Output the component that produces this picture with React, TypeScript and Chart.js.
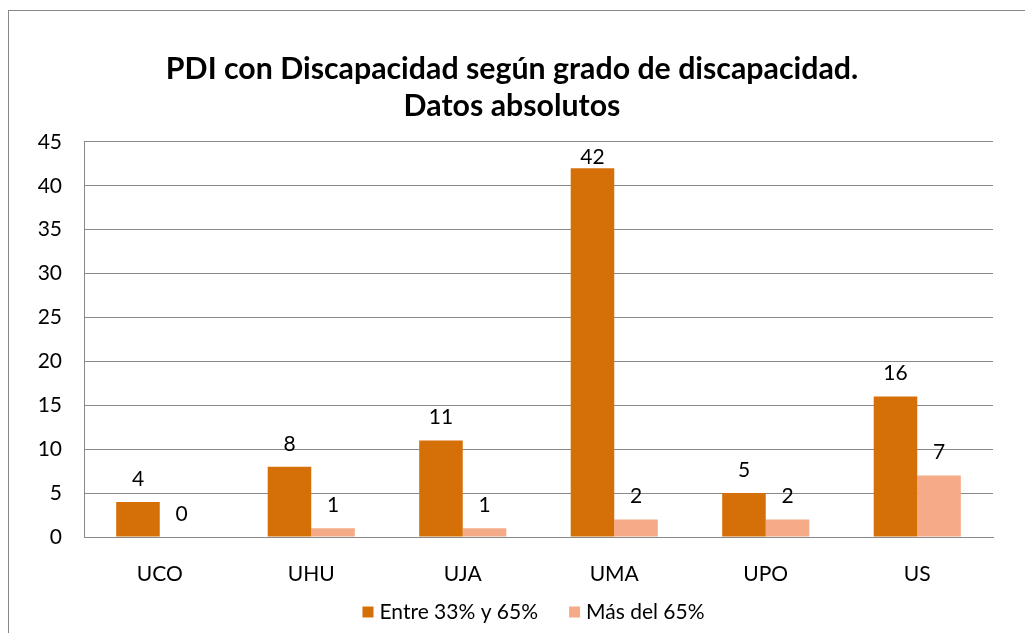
import React, { useEffect, useRef } from "react";
import { Chart, registerables } from "chart.js";

Chart.register(...registerables);

const categories = ["UCO", "UHU", "UJA", "UMA", "UPO", "US"];
const seriesA = [4, 8, 11, 42, 5, 16];
const seriesB = [0, 1, 1, 2, 2, 7];
const seriesNames = ["Entre 33% y 65%", "Más del 65%"];
const seriesColors = ["#D57008", "#F5AA88"];
const titleLines = ["PDI con Discapacidad según grado de discapacidad.", "Datos absolutos"];

const FONT = "Lato, 'Open Sans', sans-serif";

const labelPlugin = {
  id: "barLabels",
  afterDatasetsDraw(chart: any) {
    const ctx = chart.ctx;
    ctx.save();
    ctx.font = `21px ${FONT}`;
    ctx.fillStyle = "#000";
    ctx.textAlign = "center";
    ctx.textBaseline = "middle";
    chart.data.datasets.forEach((ds: any, di: number) => {
      const meta = chart.getDatasetMeta(di);
      meta.data.forEach((bar: any, i: number) => {
        let y = bar.y - 23;
        if (y < chart.chartArea.top + 15) y = chart.chartArea.top + 15;
        ctx.fillText(String(ds.data[i]), bar.x, y);
      });
    });
    // custom legend
    const box = 11, gapBoxText = 6, gapItems = 31;
    const widths = chart.data.datasets.map((ds: any) => box + gapBoxText + ctx.measureText(ds.label).width);
    const total = widths.reduce((a: number, b: number) => a + b, 0) + gapItems * (widths.length - 1);
    const ca = chart.chartArea;
    let x = (ca.left + ca.right) / 2 - 5 - total / 2;
    const cy = chart.height - 21;
    ctx.textAlign = "left";
    chart.data.datasets.forEach((ds: any, di: number) => {
      ctx.fillStyle = ds.backgroundColor;
      ctx.fillRect(x, cy - box / 2, box, box);
      ctx.fillStyle = "#000";
      ctx.fillText(ds.label, x + box + gapBoxText, cy);
      x += widths[di] + gapItems;
    });
    ctx.restore();
  },
};

export default function App() {
  const ref = useRef<HTMLCanvasElement>(null);
  useEffect(() => {
    const chart = new Chart(ref.current!, {
      type: "bar",
      data: {
        labels: categories,
        datasets: [
          { label: seriesNames[0], data: seriesA, backgroundColor: seriesColors[0], barPercentage: 1, categoryPercentage: 0.575 },
          { label: seriesNames[1], data: seriesB, backgroundColor: seriesColors[1], barPercentage: 1, categoryPercentage: 0.575 },
        ],
      },
      options: {
        animation: false,
        responsive: false,
        layout: { padding: { left: 22, right: 40, top: 0, bottom: 46 } },
        plugins: {
          title: {
            display: true,
            text: titleLines,
            font: { family: FONT, size: 30.3, weight: "bold", lineHeight: 1.22 },
            color: "#000",
            padding: { top: 40, bottom: 17 },
          },
          legend: { display: false },
          tooltip: { enabled: false },
        },
        scales: {
          x: {
            grid: { display: false, drawTicks: false },
            border: { display: true, color: "#898989" },
            ticks: { font: { family: FONT, size: 21 }, color: "#000", padding: 25 },
            afterFit: (s: any) => { s.height = 50; },
          },
          y: {
            min: 0,
            max: 45,
            ticks: { stepSize: 5, font: { family: FONT, size: 21 }, color: "#000", padding: 22 },
            grid: { color: "#898989", drawTicks: false },
            border: { display: true, color: "#898989" },
            afterFit: (s: any) => { s.width = 53; },
          },
        },
      },
      plugins: [labelPlugin],
    });
    return () => chart.destroy();
  }, []);
  return (
    <div style={{ marginTop: 2, width: 1024, height: 622, borderLeft: "1px solid #888", borderTop: "1px solid #888" }}>
      <canvas ref={ref} width={1024} height={622} style={{ display: "block" }} />
    </div>
  );
}
